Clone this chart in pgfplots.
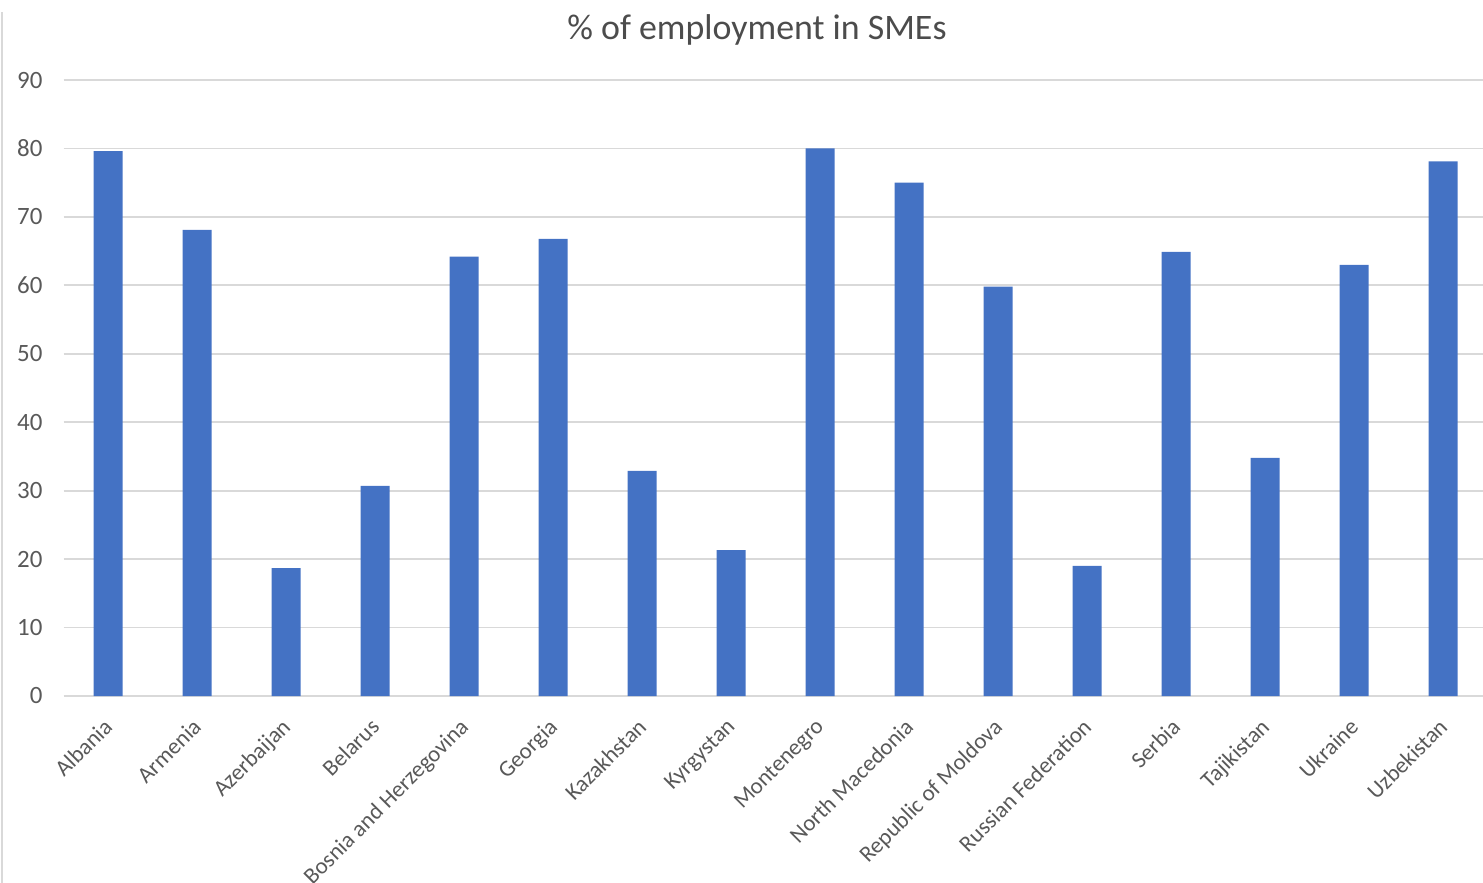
\documentclass[border=0pt]{standalone}
\usepackage{pgfplots}
\pgfplotsset{compat=1.18}
\usepackage{fontspec}
\setmainfont{Carlito}
\definecolor{barblue}{HTML}{4472C4}
\definecolor{gridgray}{HTML}{D9D9D9}
\definecolor{txtgray}{HTML}{595959}

\begin{document}
\begin{tikzpicture}
% picture frame: 1px = 0.5bp, axis lower-left at pixel (63.5,696)
\useasboundingbox (-31.75bp,-93.5bp) rectangle (709.75bp,348bp);
\draw[gridgray, line width=1bp] (-30.5bp,-93.5bp) -- (-30.5bp,342bp);
\begin{axis}[
    at={(0,0)}, anchor=south west,
    scale only axis,
    width=712bp, height=308bp,
    xmin=-0.5, xmax=15.5,
    ymin=0, ymax=90,
    ybar, bar width=14.5bp,
    axis line style={draw=none},
    major tick length=0pt,
    ymajorgrids,
    grid style={gridgray, line width=0.9bp},
    ytick={0,10,...,90},
    xtick={0,...,15},
    xticklabels={Albania, Armenia, Azerbaijan, Belarus, Bosnia and Herzegovina, Georgia, Kazakhstan, Kyrgystan, Montenegro, North Macedonia, Republic of Moldova, Russian Federation, Serbia, Tajikistan, Ukraine, Uzbekistan},
    /pgf/number format/assume math mode=true,
    yticklabel style={font=\fontsize{12.5}{14}\selectfont, text=txtgray, xshift=-7bp},
    xticklabel style={font=\fontsize{11.5}{13}\selectfont, text=txtgray, rotate=45, anchor=north east, xshift=-6bp, yshift=-2bp},
    clip=false,
]
\addplot[fill=barblue, draw=none] coordinates {
    (0,79.6) (1,68.1) (2,18.7) (3,30.7) (4,64.2) (5,66.8) (6,32.9) (7,21.3)
    (8,80.0) (9,75.0) (10,59.8) (11,19.0) (12,64.9) (13,34.8) (14,63.0) (15,78.1)
};
\end{axis}
\node[font=\fontsize{18}{21}\selectfont, text=txtgray!85!black] at (346.75bp,333bp) {\% of employment in SMEs};
\end{tikzpicture}
\end{document}
